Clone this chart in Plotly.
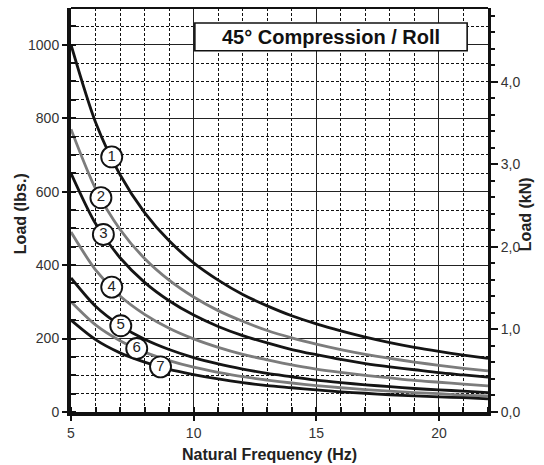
import numpy as np
import plotly.graph_objects as go

# ---- data ----
freq_hz = [5, 6, 7, 8, 9, 10, 11, 12, 13, 14, 15, 16, 17, 18, 19, 20, 21, 22]
curve_1 = [1000, 789, 646, 543, 466, 406, 359, 320, 289, 262, 240, 221, 204, 189, 176, 165, 155, 146]
curve_2 = [770, 608, 497, 418, 359, 313, 276, 247, 222, 202, 185, 170, 157, 146, 136, 127, 119, 112]
curve_3 = [650, 513, 420, 353, 303, 264, 233, 208, 188, 170, 156, 143, 132, 123, 115, 107, 101, 95]
curve_4 = [490, 387, 316, 266, 228, 199, 176, 157, 142, 128, 117, 108, 100, 93, 86, 81, 76, 71]
curve_5 = [365, 288, 236, 198, 170, 148, 131, 117, 105, 96, 87, 80, 74, 69, 64, 60, 57, 53]
curve_6 = [300, 237, 194, 163, 140, 122, 108, 96, 87, 79, 72, 66, 61, 57, 53, 50, 46, 44]
curve_7 = [250, 197, 161, 136, 116, 102, 90, 80, 72, 66, 60, 55, 51, 47, 44, 41, 39, 36]
curve_names = ["1", "2", "3", "4", "5", "6", "7"]
label_freq = [6.66, 6.22, 6.32, 6.66, 7.03, 7.68, 8.65]
kn_ticks = [0, 1, 2, 3, 4]
kn_ticktext = ["0,0", "1,0", "2,0", "3,0", "4,0"]
lbs_ticks = [0, 200, 400, 600, 800, 1000]
freq_ticks = [5, 10, 15, 20]
LBF_TO_KN = 0.0044482

curves = [curve_1, curve_2, curve_3, curve_4, curve_5, curve_6, curve_7]
colors = ["#141414", "#7c7c7c", "#141414", "#7c7c7c", "#141414", "#7c7c7c", "#141414"]

FONT = "Liberation Sans, Arial, sans-serif"
Y_MAX = 1100

fig = go.Figure()
for name, vals, col in zip(curve_names, curves, colors):
    fig.add_trace(go.Scatter(x=freq_hz, y=vals, mode="lines", name=name,
                             line=dict(color=col, width=2.8, shape="spline", smoothing=0.8),
                             hoverinfo="skip", showlegend=False))

# circled curve labels sitting on the curves
lab_y = [float(np.interp(f, freq_hz, vals)) for f, vals in zip(label_freq, curves)]
fig.add_trace(go.Scatter(x=label_freq, y=lab_y, mode="markers+text", text=curve_names,
                         textposition="middle center",
                         textfont=dict(family=FONT, size=15, color="#222"),
                         marker=dict(size=21, color="white", line=dict(color="#111", width=1.9)),
                         hoverinfo="skip", showlegend=False))

# invisible trace for the kN axis
fig.add_trace(go.Scatter(x=freq_hz, y=[v * LBF_TO_KN for v in curve_1], yaxis="y2",
                         mode="lines", line=dict(width=0, color="rgba(0,0,0,0)"),
                         hoverinfo="skip", showlegend=False))

fig.update_layout(
    width=544, height=465,
    margin=dict(l=71, r=56, t=8, b=53),
    paper_bgcolor="white", plot_bgcolor="white",
    font=dict(family=FONT, size=14, color="#333"),
    xaxis=dict(range=[5, 22], tickvals=freq_ticks, showgrid=True, gridcolor="#222", gridwidth=1,
               zeroline=False, showline=True, linecolor="#111", linewidth=4,
               ticks="outside", ticklen=5, tickcolor="#111", tickwidth=1.5,
               tickfont=dict(family=FONT, size=14, color="#333"),
               minor=dict(dtick=1, tick0=5, showgrid=True, gridcolor="#111", gridwidth=1,
                          griddash="3px,2px", ticks="inside", ticklen=5, tickcolor="#111")),
    yaxis=dict(range=[0, Y_MAX], tickvals=lbs_ticks, showgrid=True, gridcolor="#222", gridwidth=1,
               zeroline=False, showline=True, linecolor="#111", linewidth=4,
               ticks="outside", ticklen=5, tickcolor="#111", tickwidth=1.5,
               tickfont=dict(family=FONT, size=14, color="#333"),
               minor=dict(dtick=50, tick0=0, showgrid=True, gridcolor="#111", gridwidth=1,
                          griddash="3px,2px", ticks="inside", ticklen=5, tickcolor="#111")),
    yaxis2=dict(overlaying="y", side="right", range=[0, Y_MAX * LBF_TO_KN],
                tickvals=kn_ticks, ticktext=kn_ticktext, showgrid=False, zeroline=False,
                showline=True, linecolor="#111", linewidth=3,
                ticks="outside", ticklen=7, tickcolor="#111", tickwidth=1.5,
                tickfont=dict(family=FONT, size=14, color="#333"),
                minor=dict(dtick=0.2, tick0=0, showgrid=False, ticks="outside", ticklen=4,
                           tickcolor="#111")),
    shapes=[
        dict(type="line", xref="paper", yref="paper", x0=0, x1=1, y0=1, y1=1,
             line=dict(color="#111", width=2)),
        dict(type="rect", xref="paper", yref="paper", x0=0.297, x1=0.950, y0=0.894, y1=0.963,
             fillcolor="white", line=dict(color="#111", width=1.6), layer="above"),
    ],
    annotations=[
        dict(text="<b>45° Compression / Roll</b>", xref="paper", yref="paper", x=0.6235, y=0.9285,
             showarrow=False, xanchor="center", yanchor="middle",
             font=dict(family=FONT, size=20, color="#111")),
        dict(text="<b>Load (lbs.)</b>", xref="paper", yref="paper", x=-0.122, y=0.49,
             showarrow=False, textangle=-90, xanchor="center", yanchor="middle",
             font=dict(family=FONT, size=16, color="#222")),
        dict(text="<b>Load (kN)</b>", xref="paper", yref="paper", x=1.089, y=0.49,
             showarrow=False, textangle=-90, xanchor="center", yanchor="middle",
             font=dict(family=FONT, size=16, color="#222")),
        dict(text="<b>Natural Frequency (Hz)</b>", xref="paper", yref="paper", x=0.475, y=-0.104,
             showarrow=False, xanchor="center", yanchor="middle",
             font=dict(family=FONT, size=16, color="#222")),
    ],
)

fig.write_html("out.html")
